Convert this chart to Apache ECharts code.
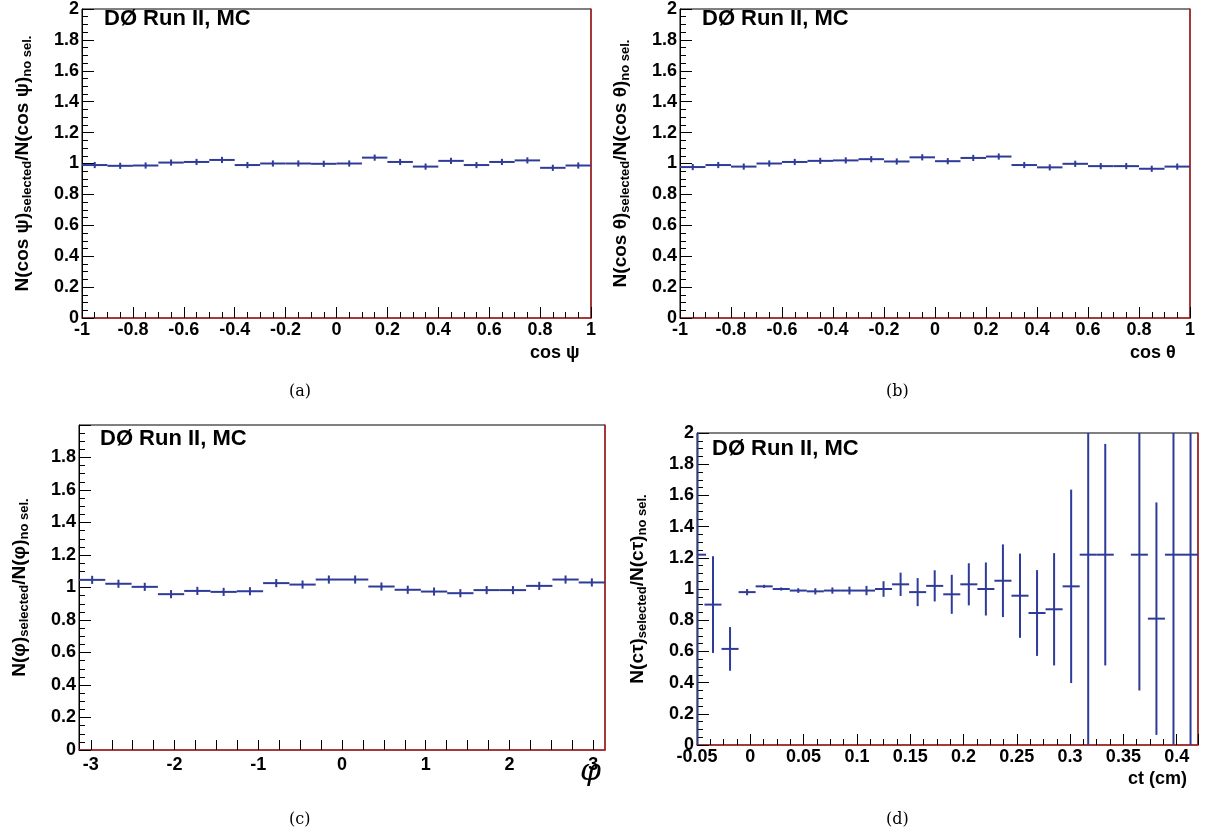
<!DOCTYPE html>
<html>
<head>
<meta charset="utf-8">
<script src="https://cdn.jsdelivr.net/npm/echarts@6/dist/echarts.min.js"></script>
<style>html,body{margin:0;padding:0;background:#fff}#c{width:1218px;height:839px}</style>
</head>
<body>
<div id="c"></div>
<script>
// panel (a) cos psi, 20 bins
var aCenters = [-0.95,-0.85,-0.75,-0.65,-0.55,-0.45,-0.35,-0.25,-0.15,-0.05,0.05,0.15,0.25,0.35,0.45,0.55,0.65,0.75,0.85,0.95];
var aVals = [0.99,0.985,0.987,1.006,1.01,1.023,0.99,1.0,1.0,0.998,1.0,1.038,1.01,0.98,1.017,0.99,1.01,1.02,0.972,0.987];
var aErr = [0.02,0.02,0.02,0.02,0.02,0.02,0.02,0.02,0.02,0.02,0.02,0.02,0.02,0.02,0.02,0.02,0.02,0.02,0.02,0.02];
// panel (b) cos theta
var bVals = [0.977,0.99,0.98,1.0,1.01,1.017,1.02,1.028,1.013,1.04,1.015,1.036,1.045,0.99,0.975,0.998,0.983,0.983,0.966,0.98];
var bErr = [0.02,0.02,0.02,0.02,0.02,0.02,0.02,0.02,0.02,0.02,0.02,0.02,0.02,0.02,0.02,0.02,0.02,0.02,0.02,0.02];
// panel (c) phi, 20 bins on [-pi, pi]
var cVals = [1.047,1.023,1.004,0.959,0.979,0.973,0.977,1.027,1.018,1.049,1.049,1.006,0.986,0.975,0.965,0.984,0.984,1.01,1.049,1.031];
var cErr = [0.025,0.025,0.025,0.025,0.025,0.025,0.025,0.025,0.025,0.025,0.025,0.025,0.025,0.025,0.025,0.025,0.025,0.025,0.025,0.025];
// panel (d) ct, 30 bins of width 0.016
var dCenters = [-0.0495,-0.035,-0.019,-0.003,0.013,0.029,0.045,0.061,0.077,0.093,0.109,0.125,0.141,0.157,0.173,0.189,0.205,0.221,0.237,0.253,0.269,0.285,0.301,0.317,0.333,0.349,0.365,0.381,0.397,0.413];
var dVals = [1.22,0.90,0.616,0.98,1.017,1.0,0.99,0.985,0.99,0.99,0.99,1.0,1.03,0.98,1.02,0.966,1.03,1.0,1.053,0.957,0.846,0.87,1.017,1.22,1.22,null,1.22,0.81,1.22,1.22];
var dErr = [1.5,0.31,0.14,0.02,0.01,0.01,0.015,0.02,0.02,0.025,0.03,0.05,0.075,0.09,0.10,0.125,0.135,0.17,0.233,0.27,0.275,0.36,0.62,1.5,0.71,0,0.87,0.745,1.5,1.5];

var blue = '#2e3b99';
var F = 'Liberation Sans, Arial, sans-serif';

function phiCenters() {
  var w = 2 * Math.PI / 20, r = [];
  for (var i = 0; i < 20; i++) r.push(-Math.PI + w * (i + 0.5));
  return r;
}
var cCenters = phiCenters();

function pts(xs, ys, es, w) {
  var out = [];
  for (var i = 0; i < xs.length; i++) if (ys[i] != null) out.push([xs[i], ys[i], es[i], w]);
  return out;
}

function errSeries(idx, data) {
  return {
    type: 'custom', xAxisIndex: idx, yAxisIndex: idx * 2, clip: true, data: data,
    renderItem: function (params, api) {
      var x = api.value(0), y = api.value(1), e = api.value(2), w = api.value(3);
      var l = api.coord([x - w / 2, y]), r = api.coord([x + w / 2, y]);
      var t = api.coord([x, y + e]), b = api.coord([x, y - e]);
      var st = { stroke: blue, lineWidth: 2 };
      return { type: 'group', children: [
        { type: 'line', shape: { x1: l[0], y1: l[1], x2: r[0], y2: r[1] }, style: st },
        { type: 'line', shape: { x1: t[0], y1: t[1], x2: b[0], y2: b[1] }, style: st }
      ]};
    }
  };
}

var grids = [
  { left: 82, top: 6, width: 509, height: 312 },
  { left: 680, top: 6, width: 510, height: 312 },
  { left: 79, top: 425, width: 526, height: 325 },
  { left: 697, top: 433, width: 501, height: 312 }
];

var labelStyle = { fontFamily: F, fontWeight: 'bold', fontSize: 18, color: '#000' };

function xAx(i, min, max, interval, extra) {
  var o = {
    type: 'value', gridIndex: i, min: min, max: max, interval: interval,
    axisLine: { show: true, onZero: false, lineStyle: { color: '#b22222', width: 1.5 } },
    axisTick: { show: true, inside: true, length: 11, lineStyle: { color: '#000' } },
    minorTick: { show: true, splitNumber: 4, length: 6, lineStyle: { color: '#000' } },
    axisLabel: Object.assign({ margin: 3, showMaxLabel: true }, labelStyle),
    splitLine: { show: false }
  };
  return Object.assign(o, extra || {});
}

function yAx(i, name, maxLabel) {
  return [{
    type: 'value', gridIndex: i, min: 0, max: 2, interval: 0.2,
    name: name, nameLocation: 'middle', nameGap: 50, nameRotate: 90,
    nameTextStyle: { fontFamily: F, fontWeight: 'bold', fontSize: 19, color: '#000',
      rich: { s: { fontFamily: F, fontWeight: 'bold', fontSize: 13, color: '#000', padding: [0, 0, -10, 0] },
              n: { fontFamily: F, fontWeight: 'bold', fontSize: 19, color: '#000' } } },
    axisLine: { show: true, onZero: false, lineStyle: { color: '#000' } },
    axisTick: { show: true, inside: true, length: 12, lineStyle: { color: '#000' } },
    minorTick: { show: true, splitNumber: 4, length: 6, lineStyle: { color: '#000' } },
    axisLabel: Object.assign({ margin: 3, showMaxLabel: maxLabel,
      formatter: function (v) { return +v.toFixed(1) + ''; } }, labelStyle),
    splitLine: { show: false }
  }, {
    type: 'value', gridIndex: i, min: 0, max: 2, position: 'right',
    axisLine: { show: true, onZero: false, lineStyle: { color: '#b22222', width: 1.5 } },
    axisTick: { show: false }, axisLabel: { show: false }, splitLine: { show: false }
  }];
}

var phiTicks = [];
for (var k = -12; k <= 12; k++) phiTicks.push(k * 0.25);

var option = {
  animation: false,
  grid: grids.map(function (g) { return Object.assign({ show: true, borderColor: '#000', borderWidth: 1 }, g); }),
  xAxis: [
    xAx(0, -1, 1, 0.2),
    xAx(1, -1, 1, 0.2),
    xAx(2, -Math.PI, Math.PI, 1, {
      axisTick: { show: true, inside: true, length: 10, customValues: phiTicks, lineStyle: { color: '#000' } },
      minorTick: { show: false },
      axisLabel: Object.assign({ margin: 6, customValues: [-3, -2, -1, 0, 1, 2, 3] }, labelStyle)
    }),
    xAx(3, -0.05, 0.42, 0.05, { axisLabel: Object.assign({ margin: 3, showMaxLabel: false }, labelStyle) })
  ],
  yAxis: [].concat(
    yAx(0, '{n|N(cos ψ)}{s|selected}{n|/N(cos ψ)}{s|no sel.}', true),
    yAx(1, '{n|N(cos θ)}{s|selected}{n|/N(cos θ)}{s|no sel.}', true),
    yAx(2, '{n|N(φ)}{s|selected}{n|/N(φ)}{s|no sel.}', false),
    yAx(3, '{n|N(cτ)}{s|selected}{n|/N(cτ)}{s|no sel.}', true)
  ),
  series: [
    errSeries(0, pts(aCenters, aVals, aErr, 0.1)),
    errSeries(1, pts(aCenters, bVals, bErr, 0.1)),
    errSeries(2, pts(cCenters, cVals, cErr, 2 * Math.PI / 20)),
    errSeries(3, pts(dCenters, dVals, dErr, 0.016))
  ],
  graphic: [
    { type: 'text', left: 104, top: 8, style: { text: 'DØ Run II, MC', font: 'bold 22px ' + F, fill: '#000' } },
    { type: 'text', left: 702, top: 8, style: { text: 'DØ Run II, MC', font: 'bold 22px ' + F, fill: '#000' } },
    { type: 'text', left: 100, top: 428, style: { text: 'DØ Run II, MC', font: 'bold 22px ' + F, fill: '#000' } },
    { type: 'text', left: 712, top: 438, style: { text: 'DØ Run II, MC', font: 'bold 22px ' + F, fill: '#000' } },
    { type: 'text', left: 530, top: 344, style: { text: 'cos ψ', font: 'bold 18px ' + F, fill: '#000' } },
    { type: 'text', left: 1130, top: 344, style: { text: 'cos θ', font: 'bold 18px ' + F, fill: '#000' } },
    { type: 'text', left: 580, top: 757, style: { text: 'φ', font: 'italic 30px DejaVu Serif, serif', fill: '#000' } },
    { type: 'text', left: 1128, top: 770, style: { text: 'ct (cm)', font: 'bold 18px ' + F, fill: '#000' } },
    { type: 'text', left: 289, top: 384, style: { text: '(a)', font: '16px DejaVu Serif, serif', fill: '#000' } },
    { type: 'text', left: 886, top: 384, style: { text: '(b)', font: '16px DejaVu Serif, serif', fill: '#000' } },
    { type: 'text', left: 289, top: 812, style: { text: '(c)', font: '16px DejaVu Serif, serif', fill: '#000' } },
    { type: 'text', left: 886, top: 812, style: { text: '(d)', font: '16px DejaVu Serif, serif', fill: '#000' } }
  ]
};

var chart = echarts.init(document.getElementById('c'));
chart.setOption(option);
</script>
</body>
</html>
